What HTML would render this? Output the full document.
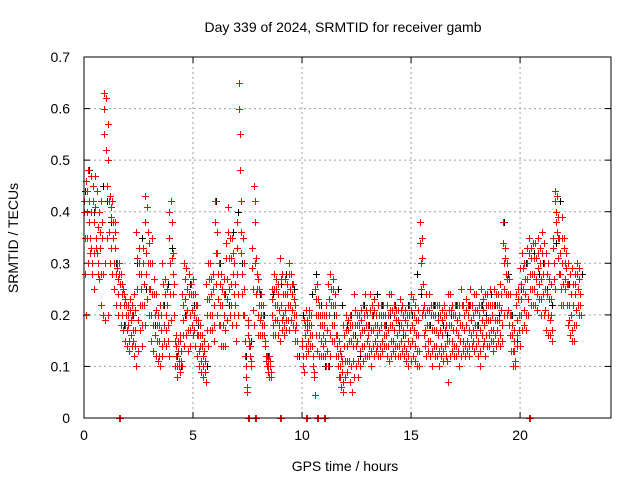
<!DOCTYPE html>
<html><head><meta charset="utf-8"><style>
html,body{margin:0;padding:0;background:#fff;}
svg{display:block;font-family:"Liberation Sans",sans-serif;}
</style></head><body>
<svg id="chart" width="640" height="480" viewBox="0 0 640 480">
<text x="343" y="32" font-size="14" text-anchor="middle">Day 339 of 2024, SRMTID for receiver gamb</text>
<text x="345" y="471" font-size="14" text-anchor="middle">GPS time / hours</text>
<text x="18" y="238" font-size="14" text-anchor="middle" transform="rotate(-90 18 238)">SRMTID / TECUs</text>
<g id="grid"></g>
<g id="axes"></g>
<g id="marksBlack"></g>
<g id="marksRed"></g>
<rect x="84" y="57" width="527" height="361" fill="none" stroke="#000" stroke-width="1"/>
</svg>
<script>
const xTicks=[0,5,10,15,20];
const yTicks=[0,0.1,0.2,0.3,0.4,0.5,0.6,0.7];
const yTickLabels=["0","0.1","0.2","0.3","0.4","0.5","0.6","0.7"];
const binStart=0, binStep=0.1;
const redHi=[.42,.46,.48,.47,.45,.47,.44,.40,.42,.63,
.62,.57,.43,.42,.38,.30,.30,.28,.25,.23,
.22,.23,.22,.24,.36,.33,.28,.33,.43,.41,
.34,.35,.27,.24,.20,.22,.30,.27,.25,.40,
.42,.32,.16,.15,.16,.24,.30,.29,.28,.26,
.27,.24,.22,.18,.16,.15,.26,.30,.30,.28,
.42,.36,.30,.28,.27,.34,.41,.35,.35,.30,
.38,.65,.36,.35,.12,.19,.14,.33,.45,.31,
.27,.24,.22,.15,.12,.12,.25,.28,.27,.26,
.31,.28,.27,.26,.30,.28,.26,.22,null,null,
.15,.19,.21,.21,.20,.10,.25,.26,.22,.20,
.20,.22,.26,.28,.27,.24,.16,.15,.12,.18,
.20,.19,.20,.18,.24,.20,.20,.21,.22,.24,
.20,.24,.22,.23,.20,.22,.22,.22,.20,.22,
.24,.24,.22,.21,.21,.23,.22,.21,.20,.22,
.24,.23,.22,.21,.38,.35,.22,.24,.24,.22,
.22,.22,.22,.22,.21,.22,.20,.24,.24,.22,
.22,.22,.22,.25,.22,.23,.22,.25,.22,.24,
.24,.22,.25,.23,.24,.24,.25,.22,.25,.24,
.24,.26,.38,.33,.30,.27,.20,.17,.24,.25,
.29,.32,.30,.33,.35,.33,.34,.34,.35,.33,
.36,.34,.32,.30,.26,.35,.44,.43,.35,.39,
.35,.32,.30,.28,.29,.28,.30,.29];
const redMid=[.35,.40,.38,.33,.38,.35,.30,.33,.35,.55,
.45,.42,.39,.35,.33,.27,.26,.24,.22,.20,
.18,.19,.17,.17,.25,.28,.22,.26,.32,.30,
.25,.24,.20,.18,.15,.17,.22,.20,.18,.30,
.31,.20,.12,.11,.13,.19,.23,.21,.20,.21,
.20,.19,.16,.14,.12,.11,.20,.23,.24,.22,
.32,.28,.22,.22,.20,.27,.31,.26,.28,.22,
.28,.55,.28,.25,.08,.16,.11,.25,.38,.25,
.22,.20,.18,.12,.10,.10,.20,.22,.22,.21,
.22,.20,.21,.22,.25,.24,.20,.18,null,null,
.12,.16,.17,.18,.16,.09,.20,.20,.18,.16,
.15,.17,.20,.22,.22,.20,.12,.10,.09,.14,
.14,.15,.15,.14,.18,.15,.16,.17,.17,.18,
.16,.17,.17,.18,.16,.17,.18,.18,.16,.17,
.18,.18,.17,.16,.17,.18,.17,.16,.15,.17,
.18,.17,.16,.16,.30,.26,.17,.18,.18,.17,
.17,.17,.16,.17,.16,.17,.15,.18,.18,.17,
.17,.16,.18,.18,.17,.18,.17,.19,.17,.18,
.18,.17,.19,.18,.19,.19,.19,.17,.19,.19,
.19,.21,.30,.28,.24,.20,.16,.13,.19,.20,
.23,.25,.24,.27,.28,.28,.28,.27,.29,.27,
.28,.25,.24,.23,.20,.30,.40,.35,.28,.30,
.30,.26,.22,.20,.22,.24,.25,.24];
const redLo=[.20,.30,.32,.28,.25,.32,.27,.22,.20,.19,
.20,.30,.28,.25,.22,.20,.18,.17,.15,.14,
.13,.14,.12,.10,.13,.17,.14,.18,.23,.20,
.15,.13,.12,.11,.10,.12,.15,.14,.12,.19,
.24,.10,.08,.09,.10,.14,.16,.13,.14,.16,
.14,.12,.10,.09,.08,.07,.14,.17,.17,.15,
.20,.18,.14,.14,.14,.19,.20,.18,.20,.15,
.20,.42,.20,.15,.05,.14,.10,.18,.24,.16,
.16,.16,.14,.10,.08,.08,.16,.16,.16,.15,
.17,.16,.17,.17,.19,.18,.15,.12,null,null,
.09,.12,.13,.14,.12,.045,.13,.12,.12,.12,
.10,.10,.12,.15,.15,.12,.08,.06,.05,.08,
.09,.07,.05,.08,.10,.08,.10,.11,.12,.12,
.12,.10,.12,.13,.12,.12,.13,.14,.12,.11,
.12,.13,.12,.12,.12,.13,.12,.11,.10,.11,
.12,.11,.10,.10,.20,.16,.12,.13,.12,.10,
.12,.12,.10,.12,.11,.12,.07,.12,.13,.12,
.12,.10,.12,.13,.12,.13,.12,.14,.13,.14,
.12,.10,.14,.12,.14,.14,.15,.13,.14,.15,
.14,.15,.20,.20,.18,.13,.10,.10,.14,.14,
.17,.18,.17,.20,.22,.22,.22,.21,.23,.20,
.20,.17,.16,.16,.15,.25,.36,.28,.22,.22,
.25,.18,.16,.15,.15,.18,.20,.20];
const redUpper=[.40,.44,.42,.40,.42,.41,.37,.36,.38,.60,
.52,.50,.41,.38,.36,.29,.28,.26,.24,.22,
.20,.21,.20,.21,.31,.30,.25,.30,.38,.36,
.30,.30,.24,.21,.18,.20,.26,.24,.22,.35,
.38,.26,.14,.13,.15,.22,.27,.25,.24,.24,
.24,.22,.19,.16,.14,.13,.23,.27,.27,.25,
.38,.32,.26,.25,.24,.31,.36,.31,.32,.26,
.33,.60,.32,.30,.10,.18,.12,.29,.42,.28,
.25,.22,.20,.14,.11,.11,.23,.25,.25,.24,
.27,.24,.24,.24,.28,.26,.23,.20,null,null,
.14,.18,.19,.20,.18,.10,.23,.23,.20,.18,
.18,.20,.23,.25,.25,.22,.14,.13,.11,.16,
.17,.17,.18,.16,.21,.18,.18,.19,.20,.21,
.18,.21,.20,.21,.18,.20,.20,.20,.18,.20,
.21,.21,.20,.19,.19,.21,.20,.19,.18,.20,
.21,.20,.19,.19,.34,.31,.20,.21,.21,.20,
.20,.20,.19,.20,.19,.20,.18,.21,.21,.20,
.20,.19,.20,.22,.20,.21,.20,.22,.20,.21,
.21,.20,.22,.21,.22,.22,.22,.20,.22,.22,
.22,.24,.34,.31,.27,.24,.18,.15,.22,.23,
.26,.29,.27,.30,.32,.31,.31,.31,.32,.30,
.32,.30,.28,.27,.23,.33,.42,.39,.32,.35,
.33,.29,.26,.24,.26,.26,.28,.27];
const redLower=[.28,.35,.35,.30,.32,.33,.28,.28,.28,.30,
.35,.36,.33,.30,.28,.24,.22,.20,.18,.17,
.15,.16,.15,.14,.19,.22,.18,.22,.28,.25,
.20,.18,.16,.15,.12,.14,.18,.17,.15,.24,
.28,.15,.10,.10,.11,.16,.20,.17,.17,.18,
.17,.16,.13,.11,.10,.09,.17,.20,.20,.18,
.26,.23,.18,.18,.17,.23,.25,.22,.24,.18,
.24,.48,.24,.20,.06,.15,.10,.21,.30,.20,
.19,.18,.16,.11,.09,.09,.18,.19,.19,.18,
.19,.18,.19,.19,.22,.21,.17,.15,null,null,
.10,.14,.15,.16,.14,.08,.16,.16,.15,.14,
.12,.13,.16,.18,.18,.16,.10,.08,.07,.11,
.11,.11,.10,.11,.14,.11,.13,.14,.14,.15,
.14,.13,.14,.15,.14,.14,.15,.16,.14,.14,
.15,.15,.14,.14,.14,.15,.14,.13,.12,.14,
.15,.14,.13,.13,.25,.21,.14,.15,.15,.13,
.14,.14,.13,.14,.13,.14,.11,.15,.15,.14,
.14,.13,.15,.15,.14,.15,.14,.16,.15,.16,
.15,.13,.16,.15,.16,.16,.17,.15,.16,.17,
.16,.18,.25,.24,.21,.16,.13,.11,.16,.17,
.20,.21,.20,.23,.25,.25,.25,.24,.26,.23,
.24,.21,.20,.19,.17,.27,.38,.31,.25,.26,
.27,.22,.19,.17,.18,.21,.22,.22];
const blackStep=0.2;
const blackV=[.44,.48,.40,.30,.45,.42,.38,.30,.22,.18,.15,.20,.30,.35,.25,.20,.18,.15,.22,.26,
.33,.12,.10,.20,.26,.22,.18,.12,.10,.20,.42,.30,.24,.22,.36,.40,.30,.12,.15,.30,
.24,.20,.12,.24,.22,.26,.28,.22,.25,.12,.20,.18,.24,.28,.22,.10,.10,.20,.25,.22,
.18,.20,.16,.12,.22,.18,.20,.24,.22,.18,.20,.22,.18,.16,.22,.20,.28,.24,.20,.18,
.22,.20,.18,.16,.20,.22,.18,.20,.22,.20,.18,.22,.20,.24,.22,.20,.38,.28,.20,.15,
.25,.30,.28,.32,.28,.30,.25,.22,.34,.42,.30,.26,.22,.25,.28];
const zeroT=[1.6,7.5,7.85,9.0,10.2,10.7,11.0,20.4];

const X0=84,X1=611,Y0=418,Y1=57,XMAX=24.17,YMAX=0.7;
const xs=t=>X0+(t/XMAX)*(X1-X0);
const ys=v=>Y0-(v/YMAX)*(Y0-Y1);
const NS="http://www.w3.org/2000/svg";
function mk(tag,attrs,parent){const e=document.createElementNS(NS,tag);for(const k in attrs)e.setAttribute(k,attrs[k]);parent.appendChild(e);return e;}
const grid=document.getElementById('grid'),axes=document.getElementById('axes');
xTicks.forEach((t,i)=>{
 const x=xs(t);
 if(t>0){const g=mk('line',{x1:x,x2:x,y1:Y1,y2:Y0,stroke:'#a0a0a0','stroke-dasharray':'2,3'},grid);
 
 }
 const a=mk('line',{x1:x,x2:x,y1:Y0,y2:Y0-6,stroke:'#000'},axes);
 
 
 const b=mk('line',{x1:x,x2:x,y1:Y1,y2:Y1+6,stroke:'#000'},axes);
 
 
 const l=mk('text',{x:x,y:Y0+22,'font-size':14,'text-anchor':'middle'},axes);l.textContent=String(t);
 
 
});
yTicks.forEach((v,i)=>{
 const y=ys(v);
 if(v>0&&v<YMAX){const g=mk('line',{x1:X0,x2:X1,y1:y,y2:y,stroke:'#a0a0a0','stroke-dasharray':'2,3'},grid);
 
 }
 const a=mk('line',{x1:X0,x2:X0+6,y1:y,y2:y,stroke:'#000'},axes);
 
 
 const b=mk('line',{x1:X1,x2:X1-6,y1:y,y2:y,stroke:'#000'},axes);
 
 
 const l=mk('text',{x:X0-14,y:y+5,'font-size':14,'text-anchor':'end'},axes);l.textContent=yTickLabels[i];
 
 
});
function plus(g,t,v,col,name){
 if(v===null||v===undefined)return;
 const x=Math.round(xs(t))+0.5,y=Math.round(ys(v))+0.5;
 const p=mk('path',{d:`M${x-3.5},${y}H${x+3.5}M${x},${y-3.5}V${y+3.5}`,stroke:col,'stroke-width':1,fill:'none'},g);
 
 
}
const gb=document.getElementById('marksBlack'),gr=document.getElementById('marksRed');
blackV.forEach((v,i)=>plus(gb,binStart+i*blackStep+0.05,v,'#000','black-point'));
redHi.forEach((v,i)=>plus(gr,binStart+i*binStep,v,'#f00','red-point'));
redUpper.forEach((v,i)=>plus(gr,binStart+i*binStep+0.02,v,'#f00','red-point'));
redMid.forEach((v,i)=>plus(gr,binStart+i*binStep+0.04,v,'#f00','red-point'));
redLower.forEach((v,i)=>plus(gr,binStart+i*binStep+0.06,v,'#f00','red-point'));
redLo.forEach((v,i)=>plus(gr,binStart+i*binStep+0.08,v,'#f00','red-point'));
zeroT.forEach(t=>{plus(gr,t,0,'#f00','red-zero-point');plus(gr,t+0.05,0,'#f00','red-zero-point');});
</script>
</body></html>
